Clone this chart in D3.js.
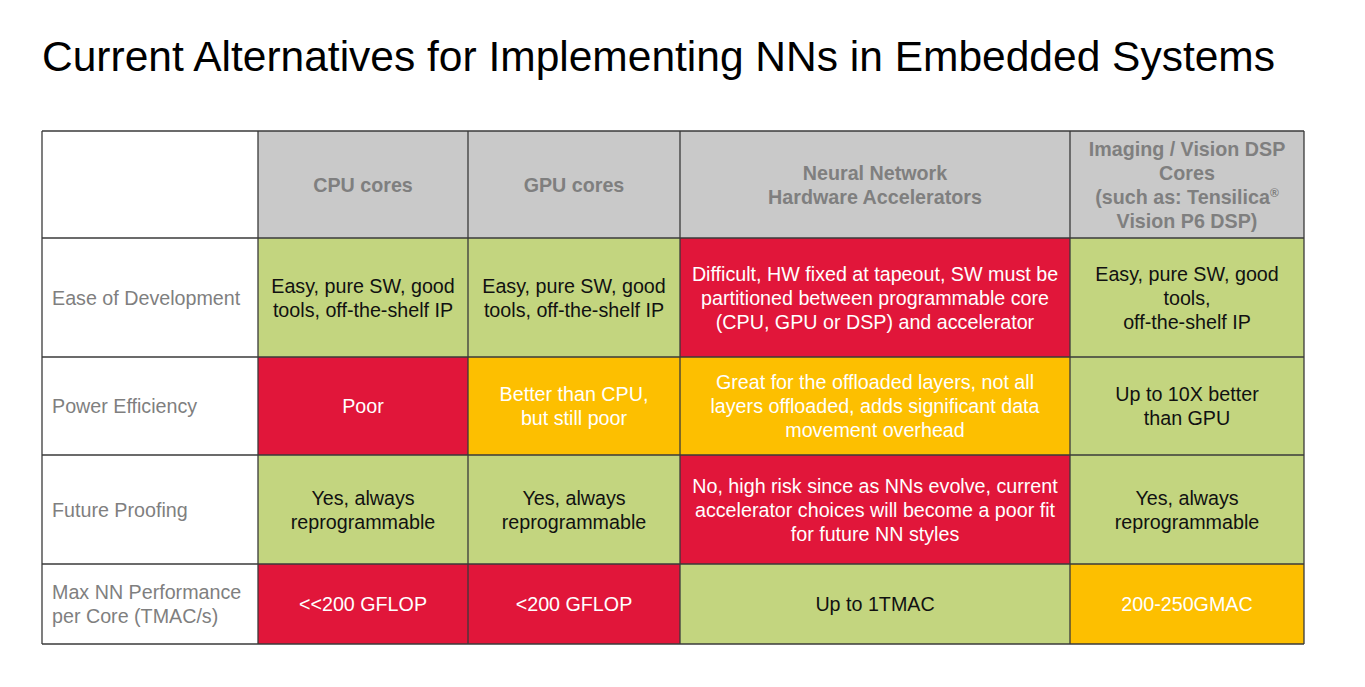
<!DOCTYPE html>
<html>
<head>
<meta charset="utf-8">
<style>
body { margin: 0; background: #fff; }
svg { font-family: "Liberation Sans", Arial, sans-serif; }
</style>
<script src="https://cdn.jsdelivr.net/npm/d3@7"></script>
</head>
<body>
<svg width="1365" height="687"></svg>
<script>
var title = "Current Alternatives for Implementing NNs in Embedded Systems";

// column headers (first column is the row-label column)
var columns = [
  [],
  ["CPU cores"],
  ["GPU cores"],
  ["Neural Network", "Hardware Accelerators"],
  ["Imaging / Vision DSP", "Cores", "(such as: Tensilica\u00AE", "Vision P6 DSP)"]
];

var rowLabels = [
  ["Ease of Development"],
  ["Power Efficiency"],
  ["Future Proofing"],
  ["Max NN Performance", "per Core (TMAC/s)"]
];

var cellText = [
  [["Easy, pure SW, good", "tools, off-the-shelf IP"],
   ["Easy, pure SW, good", "tools, off-the-shelf IP"],
   ["Difficult, HW fixed at tapeout, SW must be", "partitioned between programmable core", "(CPU, GPU or DSP) and accelerator"],
   ["Easy, pure SW, good", "tools,", "off-the-shelf IP"]],
  [["Poor"],
   ["Better than CPU,", "but still poor"],
   ["Great for the offloaded layers, not all", "layers offloaded, adds significant data", "movement overhead"],
   ["Up to 10X better", "than GPU"]],
  [["Yes, always", "reprogrammable"],
   ["Yes, always", "reprogrammable"],
   ["No, high risk since as NNs evolve, current", "accelerator choices will become a poor fit", "for future NN styles"],
   ["Yes, always", "reprogrammable"]],
  [["<<200 GFLOP"],
   ["<200 GFLOP"],
   ["Up to 1TMAC"],
   ["200-250GMAC"]]
];

// rating: g = good, y = medium, r = bad
var cellRating = [
  ["g", "g", "r", "g"],
  ["r", "y", "y", "g"],
  ["g", "g", "r", "g"],
  ["r", "r", "g", "y"]
];

var colEdges = [42, 258, 468, 680, 1070, 1304];
var rowEdges = [131, 238, 357, 455, 564, 644];

var fills = { g: "#c3d57f", y: "#fdbf00", r: "#e1163a" };
var textColor = { g: "#111", y: "#fff", r: "#fff" };

var svg = d3.select("svg");

svg.append("text")
    .attr("x", 42)
    .attr("y", 71)
    .attr("font-size", 42.5)
    .attr("fill", "#000")
    .text(title);

var lineH = 24;
var fs = 19.7;

function multiline(g, lines, cx, cy, opts) {
  var n = lines.length;
  var t = g.append("text")
      .attr("text-anchor", opts.anchor || "middle")
      .attr("font-size", fs)
      .attr("font-weight", opts.weight || "normal")
      .attr("fill", opts.fill);
  t.selectAll("tspan")
    .data(lines)
    .enter().append("tspan")
      .attr("x", cx)
      .attr("y", function(d, i) { return cy + (i - (n - 1) / 2) * lineH + 7; })
      .text(function(d) { return d; });
  return t;
}

var cells = svg.append("g");

// header row
columns.forEach(function(col, j) {
  var x0 = colEdges[j], x1 = colEdges[j + 1];
  cells.append("rect")
      .attr("x", x0).attr("y", rowEdges[0])
      .attr("width", x1 - x0).attr("height", rowEdges[1] - rowEdges[0])
      .attr("fill", j === 0 ? "#fff" : "#c9c9c9");
  if (col.length) {
    multiline(cells, col, (x0 + x1) / 2, (rowEdges[0] + rowEdges[1]) / 2,
      { weight: "bold", fill: "#7f7f7f" });
  }
});

// body rows
rowLabels.forEach(function(lab, i) {
  var y0 = rowEdges[i + 1], y1 = rowEdges[i + 2];
  cells.append("rect")
      .attr("x", colEdges[0]).attr("y", y0)
      .attr("width", colEdges[1] - colEdges[0]).attr("height", y1 - y0)
      .attr("fill", "#fff");
  multiline(cells, lab, colEdges[0] + 10, (y0 + y1) / 2,
    { anchor: "start", fill: "#7f7f7f" });

  cellText[i].forEach(function(lines, j) {
    var x0 = colEdges[j + 1], x1 = colEdges[j + 2];
    var r = cellRating[i][j];
    cells.append("rect")
        .attr("x", x0).attr("y", y0)
        .attr("width", x1 - x0).attr("height", y1 - y0)
        .attr("fill", fills[r]);
    multiline(cells, lines, (x0 + x1) / 2, (y0 + y1) / 2,
      { fill: textColor[r] });
  });
});

// grid lines
var grid = svg.append("g").attr("stroke", "#3a3a3a").attr("stroke-width", 1.3);
colEdges.forEach(function(x) {
  grid.append("line").attr("x1", x).attr("x2", x)
      .attr("y1", rowEdges[0]).attr("y2", rowEdges[rowEdges.length - 1]);
});
rowEdges.forEach(function(y) {
  grid.append("line").attr("x1", colEdges[0]).attr("x2", colEdges[colEdges.length - 1])
      .attr("y1", y).attr("y2", y);
});

// superscript ® smaller in the last header
svg.selectAll("tspan").filter(function(d) { return d === "(such as: Tensilica\u00AE"; })
  .each(function() {
    var el = d3.select(this);
    el.text("(such as: Tensilica");
    el.append("tspan").attr("font-size", 12).attr("dy", -7).text("\u00AE");
  });
</script>
</body>
</html>
